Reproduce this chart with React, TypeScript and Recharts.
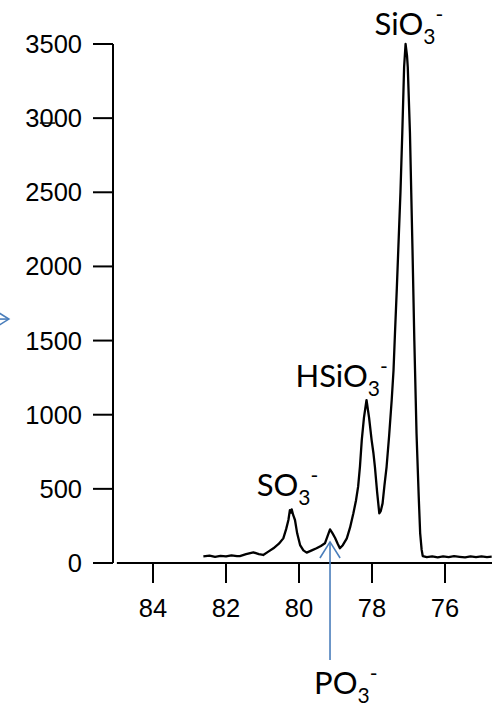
import React from 'react';
import { LineChart, Line, XAxis, YAxis, ReferenceLine, ReferenceDot } from 'recharts';

// m/z (x) and ion signal (y)
const massValues = [
  82.62, 82.45, 82.3, 82.15, 82.0, 81.85, 81.7, 81.62, 81.45, 81.25, 81.1, 80.98, 80.85, 80.7,
  80.55, 80.43, 80.35, 80.29, 80.25, 80.22, 80.2, 80.16, 80.11, 80.05, 79.97, 79.88, 79.79,
  79.65, 79.52, 79.4, 79.29, 79.22, 79.15, 79.08, 79.01, 78.94, 78.88, 78.8, 78.69, 78.6, 78.51,
  78.44, 78.38, 78.33, 78.28, 78.22, 78.15, 78.08, 78.01, 77.96, 77.92, 77.86, 77.8, 77.76,
  77.71, 77.66, 77.6, 77.53, 77.46, 77.41, 77.37, 77.32, 77.28, 77.22, 77.17, 77.12, 77.08,
  77.04, 77.02, 76.96, 76.89, 76.84, 76.78, 76.72, 76.68, 76.64, 76.61, 76.5, 76.35, 76.2,
  76.05, 75.9, 75.75, 75.6, 75.45, 75.3, 75.15, 75.0, 74.85, 74.72,
];
const signalValues = [
  45, 50, 42, 48, 44, 52, 46, 47, 60, 72, 60, 54, 75, 99,
  130, 166, 230, 290, 357, 340, 362, 324, 290, 200, 121, 85, 70,
  85, 99, 115, 133, 180, 227, 200, 169, 130, 99, 120, 166, 240, 335,
  420, 515, 650, 829, 980, 1099, 980, 829, 740, 649, 480, 335, 350,
  402, 520, 649, 860, 1099, 1300, 1551, 1850, 2111, 2500, 2900, 3345, 3500,
  3420, 3345, 2900, 2111, 1500, 875, 450, 200, 90, 47, 40, 45, 38,
  44, 40, 46, 42, 38, 44, 40, 45, 40, 43,
];

const xTicks = [84, 82, 80, 78, 76];
const yTicks = [0, 500, 1000, 1500, 2000, 2500, 3000, 3500];

// peak assignments
const ionNames = ['SiO', 'HSiO', 'SO'];
const ionMass = [77.08, 78.15, 80.2];
const ionSignal = [3500, 1099, 362];

const chartData = massValues.map((m, i) => ({ mass: m, signal: signalValues[i] }));

const ARROW_BLUE = '#4a7ebb';
const LABEL_FONT = 'Lato, "Open Sans", sans-serif';
const TICK_FONT = '"Liberation Sans", Arial, sans-serif';
const TICK_SIZE = 25.5;

function IonLabel(props: any) {
  const { cx, cy, name, dx, dy } = props;
  return (
    <text x={cx + dx} y={cy + dy} fontFamily={LABEL_FONT} fontSize={31} fill="#000">
      {name}
      <tspan fontSize={21} dy={9}>3</tspan>
      <tspan fontSize={21} dy={-22}>-</tspan>
    </text>
  );
}

function Arrow(props: any) {
  const { x1, y1, x2, y2 } = props;
  const ang = Math.atan2(y2 - y1, x2 - x1);
  const len = 19;
  const spread = 0.56;
  const ax = x2 - len * Math.cos(ang - spread);
  const ay = y2 - len * Math.sin(ang - spread);
  const bx = x2 - len * Math.cos(ang + spread);
  const by = y2 - len * Math.sin(ang + spread);
  return (
    <g stroke={ARROW_BLUE} strokeWidth={1.6} fill="none">
      <line x1={x1} y1={y1} x2={x2} y2={y2} />
      <polyline points={`${ax},${ay} ${x2},${y2} ${bx},${by}`} />
    </g>
  );
}

function XTick(props: any) {
  const { x, y, payload } = props;
  return (
    <text x={x} y={y} dy="0.71em" textAnchor="middle" fontSize={TICK_SIZE} fontFamily={TICK_FONT} fill="#000">
      {payload.value}
    </text>
  );
}

function YTick(props: any) {
  const { x, y, payload } = props;
  return (
    <text x={x} y={y} dy="0.355em" textAnchor="end" fontSize={TICK_SIZE} fontFamily={TICK_FONT} fill="#000">
      {payload.value}
    </text>
  );
}

const labelOffsets = [
  { dx: -31, dy: -9 },
  { dx: -71, dy: -13 },
  { dx: -35, dy: -13 },
];

export default function App() {
  return (
    <div style={{ width: 492, height: 705 }}>
      <style>{'body{margin:0}'}</style>
      <LineChart
        width={492}
        height={705}
        data={chartData}
        margin={{ top: 44, right: 0, left: 0, bottom: 102 }}
      >
        <XAxis
          dataKey="mass"
          type="number"
          domain={[74.712, 85.096]}
          reversed
          ticks={xTicks}
          interval={0}
          axisLine={false}
          tickLine={{ stroke: '#000', strokeWidth: 2 }}
          tickSize={20}
          tickMargin={16}
          height={40}
          tick={<XTick />}
        />
        <YAxis
          type="number"
          domain={[0, 3500]}
          ticks={yTicks}
          interval={0}
          width={113}
          axisLine={{ stroke: '#000', strokeWidth: 2 }}
          tickLine={{ stroke: '#000', strokeWidth: 2 }}
          tickSize={20}
          tickMargin={11}
          tick={<YTick />}
        />
        {/* detached x-axis baseline */}
        <ReferenceLine
          segment={[{ x: 84.99, y: 0 }, { x: 74.712, y: 0 }]}
          stroke="#000"
          strokeWidth={2}
          ifOverflow="visible"
        />
        {/* stray stroke over the 3000 label */}
        <ReferenceLine
          segment={[{ x: 87.1, y: 2967 }, { x: 86.68, y: 2967 }]}
          stroke="#000"
          strokeWidth={1.5}
          ifOverflow="visible"
        />
        <Line
          type="linear"
          dataKey="signal"
          stroke="#000"
          strokeWidth={2.3}
          strokeLinejoin="round"
          dot={false}
          isAnimationActive={false}
        />
        {ionNames.map((name, i) => (
          <ReferenceDot
            key={name}
            x={ionMass[i]}
            y={ionSignal[i]}
            r={0}
            ifOverflow="visible"
            shape={(p: any) => <IonLabel {...p} name={name} {...labelOffsets[i]} />}
          />
        ))}
        {/* PO3- arrow and label */}
        <ReferenceLine
          segment={[{ x: 79.15, y: -654 }, { x: 79.15, y: 142 }]}
          ifOverflow="visible"
          shape={(p: any) => <Arrow {...p} />}
        />
        <ReferenceDot
          x={79.15}
          y={-890}
          r={0}
          ifOverflow="visible"
          shape={(p: any) => <IonLabel {...p} name="PO" dx={-16} dy={-1} />}
        />
        {/* arrow entering from the left edge */}
        <ReferenceLine
          segment={[{ x: 88.6, y: 1645 }, { x: 87.95, y: 1645 }]}
          ifOverflow="visible"
          shape={(p: any) => <Arrow {...p} />}
        />
      </LineChart>
    </div>
  );
}
